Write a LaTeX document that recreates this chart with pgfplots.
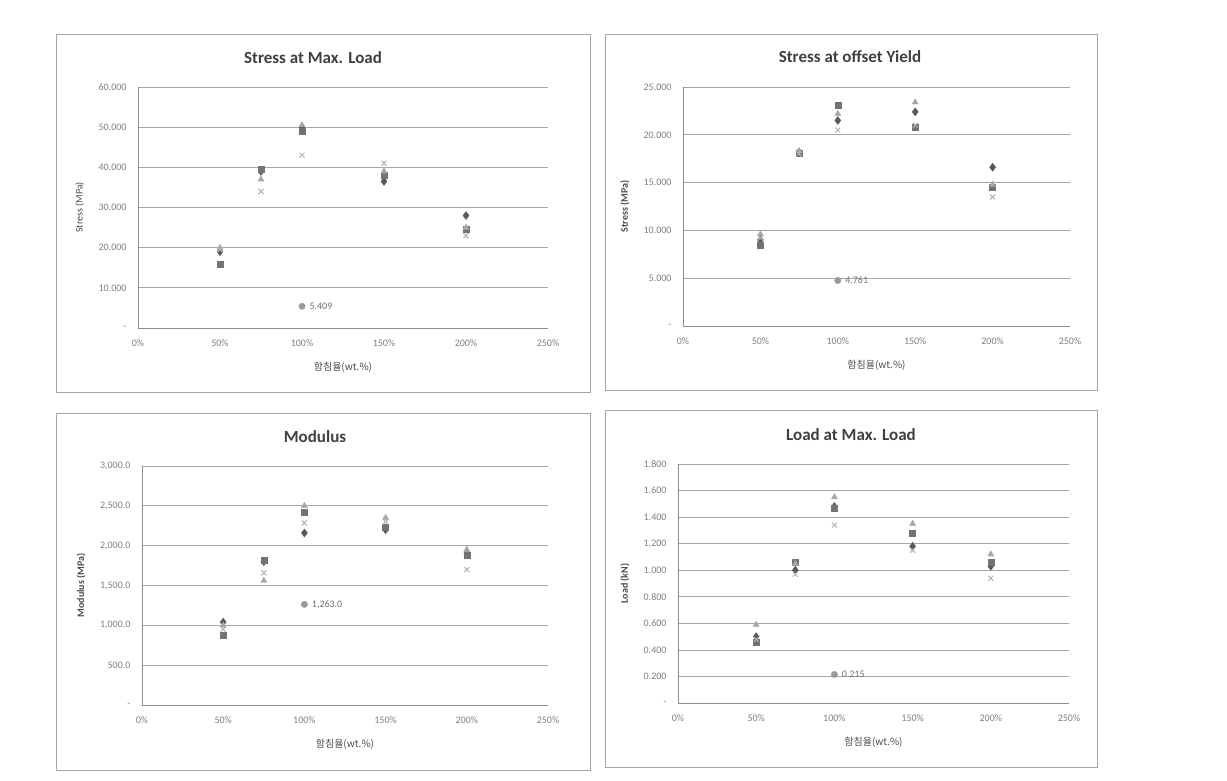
\documentclass[border=0pt]{standalone}
\usepackage{fontspec}
\setmainfont{Carlito}
\newfontfamily\kr{Noto Sans CJK KR}
\usepackage{pgfplots}
\pgfplotsset{compat=1.18}

\tikzset{lbl/.style={right, xshift=4pt, font=\fontsize{10}{11}\selectfont, text=black!55}}
\pgfplotsset{
  panel/.style={
    scale only axis,
    axis x line=bottom, axis y line=left,
    axis line style={draw=black!45, line width=0.7pt, -},
    ymajorgrids, grid style={black!35, line width=0.7pt},
    major tick length=0pt,
    xmin=0, xmax=250, ymin=0,
    xtick={0,50,...,250},
    xticklabels={0\%,50\%,100\%,150\%,200\%,250\%},
    tick label style={font=\fontsize{10}{11}\selectfont, text=black!50},
    xticklabel style={yshift=-8pt},
    yticklabel style={xshift=-8pt},
    label style={font=\fontsize{10}{11}\selectfont, text=black!70},
    xlabel={\kr 함침율(wt.\%)},
    xlabel style={at={(axis description cs:0.5,-0.165)}, anchor=center},
    clip=false,
  },
  sd/.style={only marks, mark=diamond*, mark size=4pt, color=black!65},
  ss/.style={only marks, mark=square*, mark size=3pt, color=black!55},
  st/.style={only marks, mark=triangle*, mark size=3.5pt, color=black!35},
  sx/.style={only marks, mark=x, mark size=3.5pt, line width=1pt, color=black!30},
  sc/.style={only marks, mark=*, mark size=3.2pt, color=black!40},
}

\begin{document}
\begin{tikzpicture}
\path[use as bounding box] (0pt,0pt) rectangle (1227pt,780pt);
\fill[white] (0pt,0pt) rectangle (1227pt,780pt);

% chart frames
\draw[black!35, line width=0.6pt] (56pt,388pt) rectangle (590pt,746pt);
\draw[black!35, line width=0.6pt] (605pt,390pt) rectangle (1097pt,746pt);
\draw[black!35, line width=0.6pt] (56pt,10pt) rectangle (590pt,367pt);
\draw[black!35, line width=0.6pt] (605pt,13pt) rectangle (1097pt,370pt);

% titles
\node[font=\bfseries\fontsize{17}{20}\selectfont, text=black!75] at (313pt,722pt) {Stress at Max. Load};
\node[font=\bfseries\fontsize{17}{20}\selectfont, text=black!75] at (850pt,723pt) {Stress at offset Yield};
\node[font=\bfseries\fontsize{17}{20}\selectfont, text=black!75] at (315pt,343pt) {Modulus};
\node[font=\bfseries\fontsize{17}{20}\selectfont, text=black!75] at (851pt,345pt) {Load at Max. Load};

% Stress at Max. Load
\begin{axis}[panel, at={(138pt,452pt)}, anchor=south west, width=410pt, height=241pt,
  ymax=60, ytick={0,10,...,60},
  yticklabels={-,10.000,20.000,30.000,40.000,50.000,60.000},
  ylabel={Stress (MPa)},
  ylabel style={at={(axis description cs:-0.142,0.5)}, anchor=center}]
\addplot[sd] coordinates {(50,19.0) (75,39.0) (100,50.0) (150,36.5) (200,28.0)};
\addplot[ss] coordinates {(50,16.0) (75,39.5) (100,49.0) (150,38.0) (200,24.5)};
\addplot[st] coordinates {(50,20.0) (75,37.0) (100,50.5) (150,39.0) (200,25.0)};
\addplot[sx] coordinates {(50,19.5) (75,34.0) (100,43.0) (150,41.0) (200,23.0)};
\addplot[sc] coordinates {(100,5.409)};
\node[lbl] at (axis cs:100,5.409) {5.409};
\end{axis}

% Stress at offset Yield
\begin{axis}[panel, at={(683pt,454pt)}, anchor=south west, width=387pt, height=239pt,
  ymax=25, ytick={0,5,...,25},
  yticklabels={-,5.000,10.000,15.000,20.000,25.000},
  ylabel={Stress (MPa)},
  ylabel style={at={(axis description cs:-0.15,0.5)}, anchor=center, font=\bfseries\fontsize{10}{11}\selectfont}]
\addplot[sd] coordinates {(50,9.0) (75,18.2) (100,21.5) (150,22.4) (200,16.6)};
\addplot[ss] coordinates {(50,8.5) (75,18.1) (100,23.1) (150,20.8) (200,14.5)};
\addplot[st] coordinates {(50,9.6) (75,18.3) (100,22.2) (150,23.4) (200,14.8)};
\addplot[sx] coordinates {(50,9.2) (75,18.0) (100,20.5) (150,21.0) (200,13.5)};
\addplot[sc] coordinates {(100,4.761)};
\node[lbl] at (axis cs:100,4.761) {4.761};
\end{axis}

% Modulus
\begin{axis}[panel, at={(142pt,75pt)}, anchor=south west, width=406pt, height=239pt,
  ymax=3000, ytick={0,500,...,3000},
  yticklabels={-,500.0,{1,000.0},{1,500.0},{2,000.0},{2,500.0},{3,000.0}},
  ylabel={Modulus (MPa)},
  ylabel style={at={(axis description cs:-0.15,0.5)}, anchor=center, font=\bfseries\fontsize{10}{11}\selectfont}]
\addplot[sd] coordinates {(50,1040) (75,1800) (100,2160) (150,2200) (200,1900)};
\addplot[ss] coordinates {(50,880) (75,1820) (100,2420) (150,2235) (200,1880)};
\addplot[st] coordinates {(50,1000) (75,1560) (100,2500) (150,2350) (200,1950)};
\addplot[sx] coordinates {(50,950) (75,1660) (100,2285) (150,2300) (200,1700)};
\addplot[sc] coordinates {(100,1263)};
\node[lbl] at (axis cs:100,1263) {1,263.0};
\end{axis}

% Load at Max. Load
\begin{axis}[panel, at={(678pt,77pt)}, anchor=south west, width=391pt, height=239pt,
  ymax=1.8, ytick={0,0.2,...,1.8},
  yticklabels={-,0.200,0.400,0.600,0.800,1.000,1.200,1.400,1.600,1.800},
  ylabel={Load (kN)},
  ylabel style={at={(axis description cs:-0.136,0.5)}, anchor=center, font=\bfseries\fontsize{10}{11}\selectfont}]
\addplot[sd] coordinates {(50,0.50) (75,1.00) (100,1.48) (150,1.18) (200,1.03)};
\addplot[ss] coordinates {(50,0.46) (75,1.06) (100,1.47) (150,1.28) (200,1.06)};
\addplot[st] coordinates {(50,0.59) (75,1.05) (100,1.55) (150,1.35) (200,1.12)};
\addplot[sx] coordinates {(50,0.48) (75,0.97) (100,1.34) (150,1.15) (200,0.94)};
\addplot[sc] coordinates {(100,0.215)};
\node[lbl] at (axis cs:100,0.215) {0.215};
\end{axis}
\end{tikzpicture}
\end{document}
